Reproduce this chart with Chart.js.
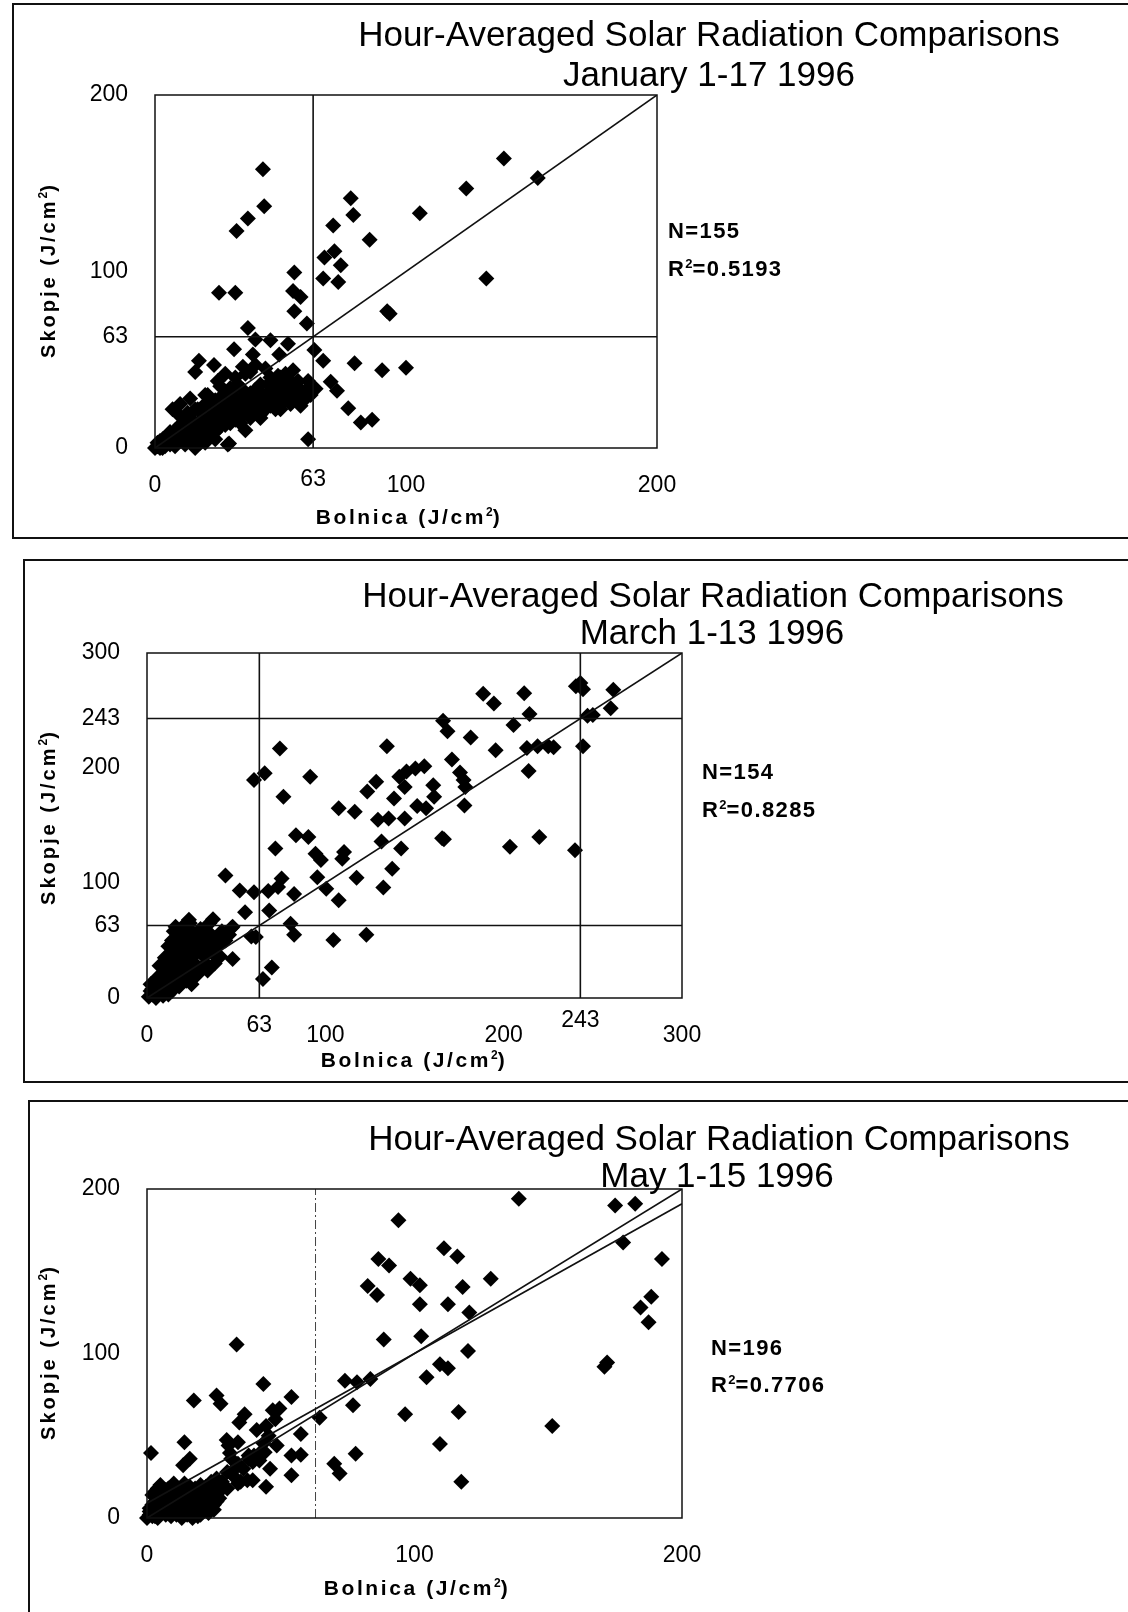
<!DOCTYPE html>
<html>
<head>
<meta charset="utf-8">
<script src="https://cdn.jsdelivr.net/npm/chart.js@4.4.1/dist/chart.umd.min.js"></script>
<style>
body { margin: 0; background: #fff; width: 1128px; height: 1612px; position: relative; overflow: hidden;
       font-family: "Liberation Sans", Arial, sans-serif; color: #000; }
.box { position: absolute; border: 2px solid #111; border-right: none; }
canvas { position: absolute; left: 0; }
.t { position: absolute; white-space: nowrap; transform: translate(-50%, -50%); }
.title { font-size: 35px; }
.stat { position: absolute; white-space: nowrap; font-weight: bold; font-size: 22px; letter-spacing: 1.4px; transform: translateY(-50%); }
.stat sup { font-size: 13px; letter-spacing: 0; }
.axx { font-weight: bold; font-size: 21px; letter-spacing: 2.6px; }
.axy { font-weight: bold; font-size: 20px; letter-spacing: 3px; }
.axx sup, .axy sup { font-size: 12px; letter-spacing: 0; }
.rot { transform: translate(-50%, -50%) rotate(-90deg); }
</style>
</head>
<body>

<div class="box" style="left:12px;top:3px;width:1200px;height:532px"></div>
<div class="box" style="left:23px;top:559px;width:1200px;height:520px"></div>
<div class="box" style="left:28px;top:1100px;width:1200px;height:600px"></div>

<canvas id="jan" width="1128" height="545" style="top:0px"></canvas>
<canvas id="mar" width="1128" height="540" style="top:548px"></canvas>
<canvas id="may" width="1128" height="517" style="top:1095px"></canvas>

<div class="t title" style="left:709px;top:34px">Hour-Averaged Solar Radiation Comparisons</div>
<div class="t title" style="left:709px;top:74px">January 1-17 1996</div>
<div class="stat" style="left:668px;top:231px">N=155</div>
<div class="stat" style="left:668px;top:269px">R<sup>2</sup>=0.5193</div>
<div class="t axy rot" style="left:48px;top:270px">Skopje (J/cm<sup>2</sup>)</div>
<div class="t axx" style="left:409px;top:517px">Bolnica (J/cm<sup>2</sup>)</div>

<div class="t title" style="left:713px;top:595px">Hour-Averaged Solar Radiation Comparisons</div>
<div class="t title" style="left:712px;top:632px">March 1-13 1996</div>
<div class="stat" style="left:702px;top:772px">N=154</div>
<div class="stat" style="left:702px;top:810px">R<sup>2</sup>=0.8285</div>
<div class="t axy rot" style="left:48px;top:817px">Skopje (J/cm<sup>2</sup>)</div>
<div class="t axx" style="left:414px;top:1060px">Bolnica (J/cm<sup>2</sup>)</div>

<div class="t title" style="left:719px;top:1138px">Hour-Averaged Solar Radiation Comparisons</div>
<div class="t title" style="left:717px;top:1175px">May 1-15 1996</div>
<div class="stat" style="left:711px;top:1348px">N=196</div>
<div class="stat" style="left:711px;top:1385px">R<sup>2</sup>=0.7706</div>
<div class="t axy rot" style="left:48px;top:1352px">Skopje (J/cm<sup>2</sup>)</div>
<div class="t axx" style="left:417px;top:1588px">Bolnica (J/cm<sup>2</sup>)</div>

<script>
// January 1-17 1996, [Bolnica, Skopje] in J/cm2
const janPoints = [
  [43,158],[43.5,137],[37,130],[32.5,123],[78,141.5],[79,132],[71,126],[85.5,118],[105.5,133],[124,147],
  [139,164],[152.5,153],[132,96],[92.5,77.5],[93.5,76],[71.5,111.5],[67.5,108],[74,103.5],[67,96],[73,94],
  [55.5,99.5],[55,89],[58,85.5],[25.5,88],[32,88],[55.5,77.5],[60.5,70.5],[37,68],[79.5,48],[90.5,44],
  [100,45.5],[31.5,56],[40,61.5],[46,61],[53,59],[49.5,53],[39,53],[17.5,49.5],[16,43],[23.5,47],
  [63.5,55.5],[67,49.5],[70,37.5],[72.5,32.5],[77,22.5],[82,14.5],[86.5,16],[61,5],[29.5,2.5],[54,38],
  [49,41],[58,24],[64,33.5],
  [0,0],[1,1],[2,0],[3,2],[1,3],[4,1],[5,3],[2,4],[6,2],[7,4],[4,5],[8,1],[9,3],[3,0],[10,5],[6,6],
  [11,7],[12,10],[13,4],[14,8],[15,12],[16,6],[17,10],[18,14],[19,9],[20,12],[21,16],[22,8],[23,13],
  [24,18],[25,11],[12,15],[14,17],[8,10],[10,13],[6,9],[19,20],[17,22],[22,22],[16,0],[20,3],
  [26,15],[27,20],[28,13],[29,24],[30,17],[31,22],[32,28],[33,19],[34,14],[35,25],[36,30],[37,21],
  [38,17],[39,27],[40,33],[41,23],[42,19],[43,30],[44,26],[45,36],[27,30],[30,34],[33,36],[29,2],
  [46,24],[47,29],[48,33],[49,27],[50,22],[51,30],[52,35],[53,29],[54,25],[55,32],[56,28],[57,30],
  [58,33],[59,31],[60,29],[61,34],[50,40],[55,44],[44,45],[40,47],[36,42],
  [3,5],[5,6],[7,7],[9,6],[11,4],[13,7],[15,5],[18,7],[20,9],[22,11],[24,9],[26,12],[28,16],[30,14],
  [32,16],[34,18],[36,20],[38,22],[40,20],[42,26],[44,22],[46,28],[48,26],[50,30],[52,27],[54,31],
  [56,34],[58,27],[60,32],[62,30],[25,22],[28,26],[31,30],[35,33],[38,31],[42,36],[46,40],[48,38],
  [52,42],[24,27],[20,25],[16,22],[13,20],[10,18],[21,30],[26,35],[32,40],[38,43],[12,2],[18,3],
  [24,5],[36,10],[42,17],[48,22],[54,26],[60,28],[15,15],[19,17],[23,20],[27,24],[33,24],[37,27],
  [41,29],[45,31],[49,35],[53,37],[57,38],[61,38],[7,22],[10,25],[14,28],[20,30],[25,38],[28,42],[35,46]
];

// March 1-13 1996
const marPoints = [
  [188.5,264.5],[194.5,256],[211.5,265],[214.5,247],[205.5,237.5],[240.5,271],[243,274],[244.5,268.5],
  [261.5,268],[260,252],[247,245.5],[250,246],[244.5,219],[166,241],[168.5,232],[181.5,226.5],[195.5,215.5],
  [213,217.5],[219,219],[225,219],[228,218],[171,207.5],[214,197.5],[175.5,196],[177.5,189.5],[178.5,183.5],
  [178,167.5],[165.5,139],[166.5,138],[203.5,131.5],[220,140],[240,128.5],[134.5,219],[74.5,217],[60,189.5],
  [66,195.5],[91.5,192.5],[76.5,175],[107.5,165],[116.5,162],[123.5,179.5],[128.5,188],[141.5,192.5],
  [145.5,197],[150.5,199.5],[155.5,201.5],[144.5,183.5],[138.5,173.5],[160.5,185],[161,175],[151.5,167],
  [156.5,165],[129.5,155],[135.5,156],[144.5,156],[83.5,141.5],[90.5,140],[94.5,125.5],[97.5,120],
  [110.5,127],[109.5,121],[131.5,136],[142.5,130],[72,130],[95.5,105],[117.5,104.5],[137.5,112.5],
  [132.5,96],[100.5,95],[107.5,85],[44,106.5],[52,93.5],[60,92],[68,93],[73.5,96.5],[75.5,104],[82.5,90.5],
  [55,74.5],[68.5,76],[80.5,64.5],[82.5,55],[104.5,50.5],[123,55],[61,53],[48,34],[70,26.5],[65,16.5],
  [23.5,68],[37,68.5],[47.5,61],[58.5,53.5],
  [1,1],[3,3],[5,0],[2,6],[7,4],[9,2],[4,9],[10,7],[12,3],[14,6],[6,12],[11,11],[15,10],[8,15],[13,15],
  [17,14],[16,20],[18,24],[20,18],[19,30],[22,27],[21,35],[23,40],[24,22],[25,32],[26,45],[27,38],[28,28],
  [17,50],[20,55],[15,58],[18,45],[22,60],[24,65],[30,42],[32,36],[34,48],[36,40],[38,52],[40,45],[42,58],
  [44,50],[46,55],[48,62],[28,20],[33,30],[25,12],[30,60],[35,65],[14,40],[12,30],[16,35],
  [3,8],[5,5],[8,8],[10,12],[2,12],[6,18],[9,22],[12,25],[14,20],[16,28],[18,35],[20,40],[22,45],[24,50],
  [26,55],[20,62],[25,58],[27,52],[29,48],[31,55],[33,58],[36,55],[10,35],[12,45],[14,50],[16,62],[7,28],
  [5,14],[18,10],[22,15],[26,20],[30,25],[34,24],[38,30],[41,36]
];

// May 1-15 1996
const mayPoints = [
  [139,194],[175,190],[182.5,191],[94,181],[178,167.5],[192.5,157.5],[111,164],[116,159],[86.5,157.5],
  [90.5,153.5],[128.5,145.5],[98.5,145.5],[102,141.5],[82.5,141],[86,135.5],[118,140.5],[102,130],[112.5,130],
  [188.5,134.5],[184.5,128],[187.5,119],[120.5,125],[88.5,108.5],[102.5,110.5],[120,101.5],[172,94.5],[171,92],
  [109.5,93.5],[112.5,91],[104.5,85.5],[33.5,105.5],[74,83.5],[78.5,82.5],[83.5,84.5],[77,68.5],[96.5,63],
  [116.5,64.5],[151.5,56],[109.5,45],[117.5,22],[78,39],[70,33],[72,27],[43.5,81.5],[54,73.5],[26,74.5],
  [27.5,69.5],[17.5,71.5],[49.5,66.5],[36.5,63],[34.5,58],[64.5,61],[57.5,51],[14,46],[1.5,39.5],[16,36],
  [13.5,32],[44.5,56],[45.5,50],[34,46],[38,38],[42.5,40],[54,38],[57.5,38.5],[54,26],[44.5,19],[39.5,23],
  [34,21],[30.5,44],[31.5,36],[48.5,44],[39.5,34],[46,30],[47,65.5],[29.8,47.4],[31,39.5],[41,53.5],
  [43.5,45.5],[37.5,23],[33.5,31],[48,60],
  [18,15],[20,20],[22,12],[24,18],[26,24],[28,22],[30,28],[32,26],[34,33],[36,30],[38,36],[40,38],[35,22],
  [42,35],[44,40],[30,18],[26,10],[22,6],
  [0,0],[1,2],[2,1],[3,4],[4,0],[5,3],[6,6],[7,2],[8,5],[9,8],[10,4],[11,9],[12,6],[13,11],[14,3],[15,8],
  [16,12],[17,5],[18,10],[19,14],[20,7],[21,12],[22,16],[23,9],[24,13],[25,18],[26,11],[2,8],[4,12],[6,15],
  [8,18],[10,14],[5,20],[3,16],[12,18],[1,6],[27,16],[20,2],[14,16],[9,1],[16,19],
  [1,4],[3,1],[5,7],[7,9],[9,11],[11,2],[13,5],[15,13],[17,16],[19,4],[21,9],[23,14],[25,8],[27,12],
  [2,14],[4,18],[6,11],[8,14],[10,21],[12,11],[14,21],[16,8],[18,18],[20,16],[22,19],[24,22],[26,20],
  [28,19],[3,10],[7,17],[11,15],[13,0],[15,2],[17,0],[19,1],[21,4],[23,3],[25,5]
];

const janXTicks = [0, 100, 200];
const janYTicks = [0, 63, 100, 200];
const marXTicks = [0, 100, 200, 300];
const marYTicks = [0, 63, 100, 200, 243, 300];
const mayXTicks = [0, 100, 200];
const mayYTicks = [0, 100, 200];

// reference lines: [x1, y1, x2, y2]
const janLines = [[0, 0, 200, 200], [63, 0, 63, 200], [0, 63, 200, 63]];
const marLines = [[0, 0, 300, 300], [63, 0, 63, 300], [243, 0, 243, 300], [0, 63, 300, 63], [0, 243, 300, 243]];
const mayLines = [[0, 0, 200, 200], [0, 9, 200, 191]];
const mayCutoff = [[63, 0, 63, 200]];

const tickFont = { family: 'Liberation Sans, Arial, sans-serif', size: 23 };

const frameAndRaised = {
  id: 'frameAndRaised',
  afterDatasetsDraw(chart, args, opts) {
    const a = chart.chartArea, ctx = chart.ctx;
    ctx.save();
    ctx.strokeStyle = '#111';
    ctx.lineWidth = 1.5;
    ctx.strokeRect(a.left, a.top, a.right - a.left, a.bottom - a.top);
    ctx.fillStyle = '#000';
    ctx.font = '23px Liberation Sans, Arial, sans-serif';
    ctx.textAlign = 'center';
    ctx.textBaseline = 'middle';
    (opts.raised || []).forEach(r => {
      ctx.fillText(String(r.v), chart.scales.x.getPixelForValue(r.v), a.bottom + r.dy);
    });
    ctx.restore();
  }
};

function makeChart(id, canvasTop, plot, xMax, yMax, xTicks, yTicks, points, lines, dashed, raised) {
  const canvas = document.getElementById(id);
  const yW = 80, xH = 60;
  const datasets = [];
  lines.forEach(l => datasets.push({
    type: 'line', data: [{ x: l[0], y: l[1] }, { x: l[2], y: l[3] }],
    borderColor: '#111', borderWidth: 1.6, pointRadius: 0, fill: false
  }));
  (dashed || []).forEach(l => datasets.push({
    type: 'line', data: [{ x: l[0], y: l[1] }, { x: l[2], y: l[3] }],
    borderColor: '#444', borderWidth: 1, borderDash: [9, 3, 2, 3], pointRadius: 0, fill: false
  }));
  datasets.push({
    type: 'scatter', data: points.map(p => ({ x: p[0], y: p[1] })),
    pointStyle: 'rectRot', pointRadius: 8, backgroundColor: '#000', borderWidth: 0, clip: false
  });
  return new Chart(canvas.getContext('2d'), {
    data: { datasets },
    options: {
      responsive: false, animation: false, devicePixelRatio: 1,
      layout: { padding: {
        left: plot.left - yW, top: plot.top - canvasTop, right: 1128 - plot.right,
        bottom: canvas.height - (plot.bottom - canvasTop) - xH } },
      plugins: { legend: { display: false }, tooltip: { enabled: false }, frameAndRaised: { raised } },
      scales: {
        x: {
          type: 'linear', min: 0, max: xMax,
          afterFit: s => { s.height = xH; },
          afterBuildTicks: s => { s.ticks = xTicks.map(v => ({ value: v })); },
          grid: { display: false, drawTicks: false }, border: { display: false },
          ticks: { font: tickFont, color: '#000', padding: 24, maxRotation: 0 }
        },
        y: {
          type: 'linear', min: 0, max: yMax,
          afterFit: s => { s.width = yW; },
          afterBuildTicks: s => { s.ticks = yTicks.map(v => ({ value: v })); },
          grid: { display: false, drawTicks: false }, border: { display: false },
          ticks: { font: tickFont, color: '#000', padding: 27 }
        }
      }
    },
    plugins: [frameAndRaised]
  });
}

makeChart('jan', 0, { left: 155, right: 657, top: 95, bottom: 448 }, 200, 200,
  janXTicks, janYTicks, janPoints, janLines, null, [{ v: 63, dy: 32 }]);
makeChart('mar', 548, { left: 147, right: 682, top: 653, bottom: 998 }, 300, 300,
  marXTicks, marYTicks, marPoints, marLines, null, [{ v: 63, dy: 28 }, { v: 243, dy: 23 }]);
makeChart('may', 1095, { left: 147, right: 682, top: 1189, bottom: 1518 }, 200, 200,
  mayXTicks, mayYTicks, mayPoints, mayLines, mayCutoff, []);
</script>
</body>
</html>
